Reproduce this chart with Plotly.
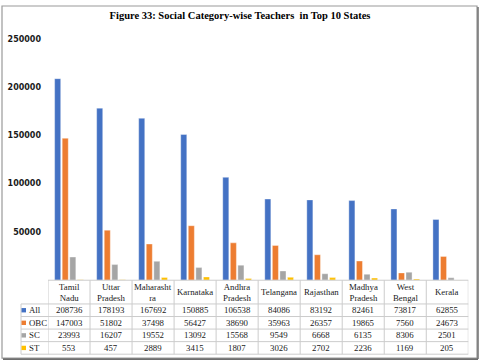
import plotly.graph_objects as go

W, H = 480, 363

states = ["Tamil Nadu", "Uttar Pradesh", "Maharashtra", "Karnataka", "Andhra Pradesh",
          "Telangana", "Rajasthan", "Madhya Pradesh", "West Bengal", "Kerala"]
state_labels = ["Tamil<br>Nadu", "Uttar<br>Pradesh", "Maharasht<br>ra", "Karnataka",
                "Andhra<br>Pradesh", "Telangana", "Rajasthan", "Madhya<br>Pradesh",
                "West<br>Bengal", "Kerala"]
series_names = ["All", "OBC", "SC", "ST"]
all_vals = [208736, 178193, 167692, 150885, 106538, 84086, 83192, 82461, 73817, 62855]
obc_vals = [147003, 51802, 37498, 56427, 38690, 35963, 26357, 19865, 7560, 24673]
sc_vals = [23993, 16207, 19552, 13092, 15568, 9549, 6668, 6135, 8306, 2501]
st_vals = [553, 457, 2889, 3415, 1807, 3026, 2702, 2236, 1169, 205]
colors = ["#4472C4", "#ED7D31", "#A5A5A5", "#FFC000"]
ytick_vals = [50000, 100000, 150000, 200000, 250000]

series = [all_vals, obc_vals, sc_vals, st_vals]


def px(x):
    return x / W


def py(y):
    return 1 - y / H


fig = go.Figure()
for name, vals, col in zip(series_names, series, colors):
    fig.add_trace(go.Bar(x=states, y=vals, name=name,
                         marker=dict(color=col, line=dict(color="rgba(255,255,255,0.45)", width=0.8))))

TABLE_TOP = 279.3
HEADER_BOT = 303.3
ROW_H = 12.7
TABLE_L = 21
X0, X1 = 48, 468.3

fig.update_layout(
    width=W, height=H,
    margin=dict(l=0, r=0, t=0, b=0),
    paper_bgcolor="white", plot_bgcolor="white",
    showlegend=False,
    barmode="group", bargap=0.28, bargroupgap=0.2,
    xaxis=dict(domain=[px(X0), px(X1)], showticklabels=False, showgrid=False,
               zeroline=False, showline=False, ticks="", range=[-0.5, 9.5]),
    yaxis=dict(domain=[py(TABLE_TOP), py(35.2)], range=[0, 250000], tickvals=ytick_vals,
               tickformat="d",
               showgrid=False, zeroline=False, showline=False, ticks="",
               ticklabelstandoff=6,
               tickfont=dict(family="DejaVu Sans", size=8, color="#1a1a1a", weight="bold")),
    title=dict(text="<b>Figure 33: Social Category-wise Teachers  in Top 10 States</b>",
               x=0.5, xanchor="center", y=py(15.5), yanchor="middle",
               font=dict(family="Liberation Serif", size=10.5, color="black")),
)

line_col = "#cccccc"
shapes = []
# horizontal table lines
shapes.append(dict(type="line", xref="paper", yref="paper", x0=px(X0), x1=px(X1),
                   y0=py(TABLE_TOP), y1=py(TABLE_TOP), line=dict(color=line_col, width=1)))
for r in range(5):
    yy = HEADER_BOT + r * ROW_H
    shapes.append(dict(type="line", xref="paper", yref="paper", x0=px(TABLE_L), x1=px(X1),
                       y0=py(yy), y1=py(yy), line=dict(color=line_col, width=1)))
# vertical table lines
table_bot = HEADER_BOT + 4 * ROW_H
shapes.append(dict(type="line", xref="paper", yref="paper", x0=px(TABLE_L), x1=px(TABLE_L),
                   y0=py(HEADER_BOT), y1=py(table_bot), line=dict(color=line_col, width=1)))
for k in range(len(states) + 1):
    shapes.append(dict(type="line", xref="x", yref="paper", x0=k - 0.5, x1=k - 0.5,
                       y0=py(TABLE_TOP), y1=py(table_bot), line=dict(color=line_col, width=1)))
# legend keys
for r, col in enumerate(colors):
    yc = HEADER_BOT + (r + 0.5) * ROW_H
    shapes.append(dict(type="rect", xref="paper", yref="paper", x0=px(21.5), x1=px(26),
                       y0=py(yc + 2.2), y1=py(yc - 2.2), fillcolor=col, line=dict(width=0)))
# outer frame
shapes.append(dict(type="rect", xref="paper", yref="paper", x0=px(2), x1=px(477),
                   y0=py(358), y1=py(2), line=dict(color="#9a9a9a", width=1.2)))
shapes.append(dict(type="line", xref="paper", yref="paper", x0=px(478), x1=px(478),
                   y0=py(359), y1=py(3), line=dict(color="#6e6e6e", width=1.5)))
shapes.append(dict(type="line", xref="paper", yref="paper", x0=px(3), x1=px(478),
                   y0=py(359), y1=py(359), line=dict(color="#6e6e6e", width=1.8)))
fig.update_layout(shapes=shapes)

tfont = dict(family="Liberation Serif", size=8.8, color="#1a1a1a")
ann = []
for s, lab in zip(states, state_labels):
    ann.append(dict(x=s, xref="x", y=py((TABLE_TOP + HEADER_BOT) / 2), yref="paper",
                    text=lab, showarrow=False, xanchor="center", yanchor="middle", font=tfont))
for r, (name, vals) in enumerate(zip(series_names, series)):
    yc = HEADER_BOT + (r + 0.5) * ROW_H
    ann.append(dict(x=px(27), xref="paper", y=py(yc), yref="paper", text=name,
                    showarrow=False, xanchor="left", yanchor="middle", font=tfont))
    for s, v in zip(states, vals):
        ann.append(dict(x=s, xref="x", y=py(yc), yref="paper", text=str(v),
                        showarrow=False, xanchor="center", yanchor="middle", font=tfont))
fig.update_layout(annotations=ann)

fig.write_html("out.html", config={"displayModeBar": False},
               post_script="document.body.style.margin='0';")
